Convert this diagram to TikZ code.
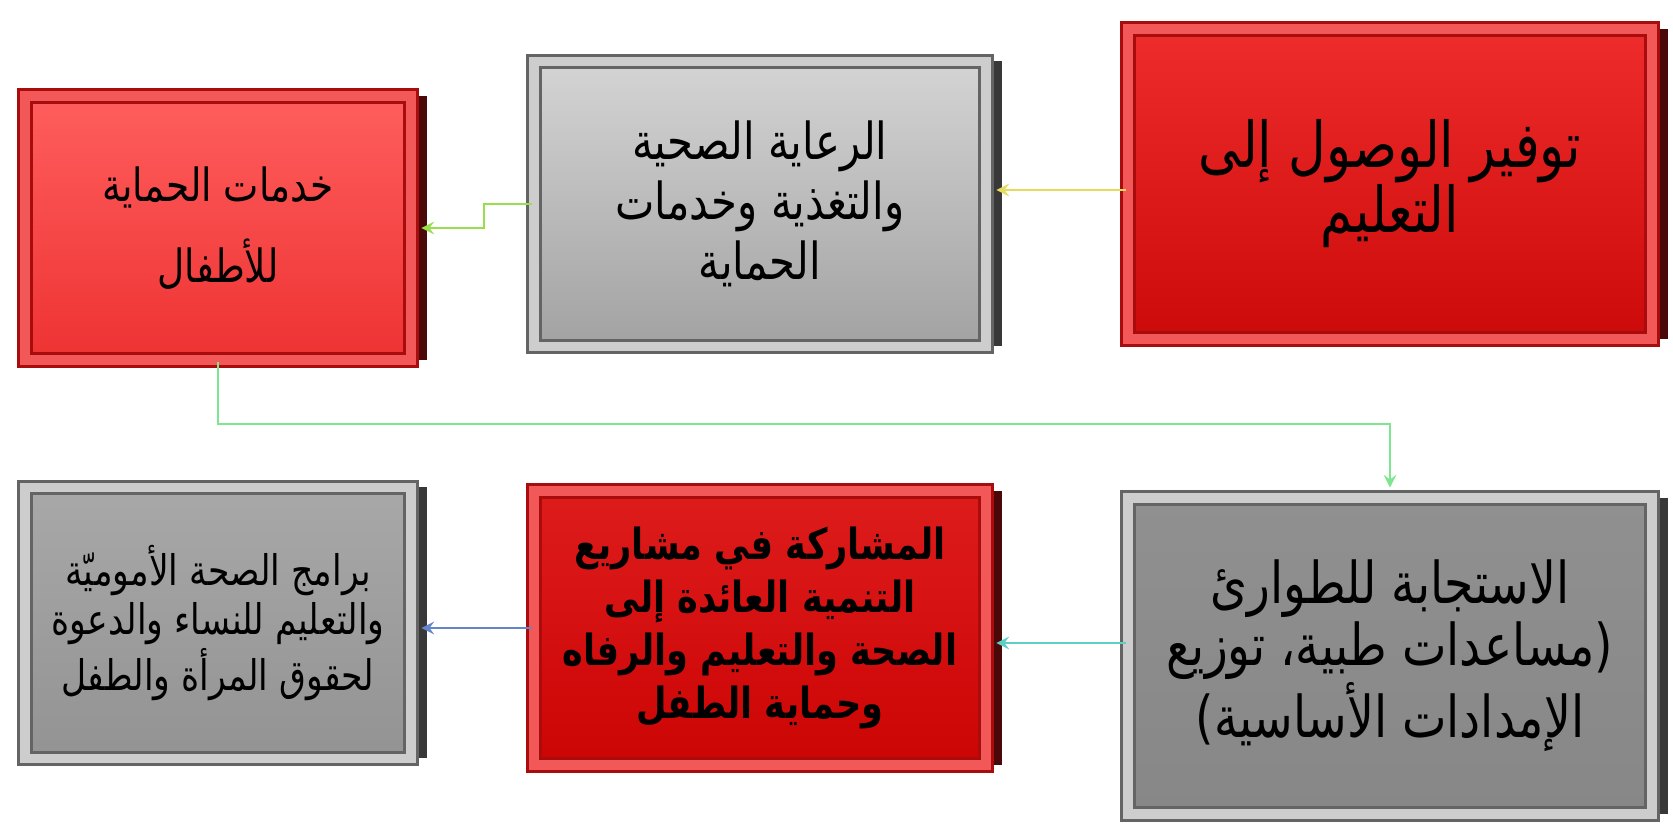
\documentclass[tikz,border=0pt]{standalone}
\usepackage{fontspec}
\usetikzlibrary{shadows}
\newfontfamily\arabicfont[Script=Arabic, FakeStretch=0.82]{DejaVu Sans}
\TeXXeTstate=1

\definecolor{redAtop}{HTML}{FF5E5E}
\definecolor{redAbot}{HTML}{EE3232}
\definecolor{redCtop}{HTML}{EE2C2C}
\definecolor{redCbot}{HTML}{CC0A0A}
\definecolor{redEtop}{HTML}{DE1C1C}
\definecolor{redEbot}{HTML}{CC0404}
\definecolor{greyBtop}{HTML}{D4D4D4}
\definecolor{greyBbot}{HTML}{A2A2A2}
\definecolor{greyDtop}{HTML}{A8A8A8}
\definecolor{greyDbot}{HTML}{939393}
\definecolor{greyFtop}{HTML}{909090}
\definecolor{greyFbot}{HTML}{878787}
\definecolor{framered}{HTML}{A80C0C}
\definecolor{edgered}{HTML}{F25858}
\definecolor{sidered}{HTML}{4A0808}
\definecolor{framegrey}{HTML}{646464}
\definecolor{edgegrey}{HTML}{CDCDCD}
\definecolor{sidegrey}{HTML}{383838}
\definecolor{lineyellow}{HTML}{E4DC5C}
\definecolor{linegreen}{HTML}{98DE4E}
\definecolor{linelight}{HTML}{7EE68E}
\definecolor{lineteal}{HTML}{5ECFC4}
\definecolor{lineblue}{HTML}{6486C8}

\begin{document}
\begin{tikzpicture}[
    >=stealth,
    panel/.style={line width=0.9pt, double distance=2.6pt, align=center, inner sep=2pt},
    redpanel/.style={panel, draw=framered, double=edgered,
      drop shadow={shadow xshift=4.5pt, shadow yshift=0pt, opacity=1, fill=sidered}},
    greypanel/.style={panel, draw=framegrey, double=edgegrey,
      drop shadow={shadow xshift=4.5pt, shadow yshift=0pt, opacity=1, fill=sidegrey}},
    conn/.style={->, line width=0.6pt, shorten >=2.5pt}
  ]
    \useasboundingbox (0, 0) rectangle (16.73, 8.28);

    % top row
    \node[redpanel, top color=redAtop, bottom color=redAbot,
      minimum width=3.86cm, minimum height=2.64cm,
      font=\arabicfont\fontsize{13}{23}\selectfont] (protect) at (2.18, 6.00)
      {\beginR خدمات الحماية\endR\\ \beginR للأطفال\endR};
    \node[greypanel, top color=greyBtop, bottom color=greyBbot,
      minimum width=4.52cm, minimum height=2.85cm,
      font=\arabicfont\fontsize{14.5}{17}\selectfont] (care) at (7.60, 6.24)
      {\beginR الرعاية الصحية\endR\\ \beginR والتغذية وخدمات\endR\\ \beginR الحماية\endR};
    \node[redpanel, top color=redCtop, bottom color=redCbot,
      minimum width=5.24cm, minimum height=3.10cm,
      font=\arabicfont\fontsize{18}{18.5}\selectfont] (access) at (13.90, 6.44)
      {\beginR توفير الوصول إلى\endR\\ \beginR التعليم\endR};

    % bottom row
    \node[greypanel, top color=greyDtop, bottom color=greyDbot,
      minimum width=3.86cm, minimum height=2.71cm,
      font=\arabicfont\fontsize{12}{13.8}\selectfont] (mother) at (2.18, 2.05)
      {\beginR برامج الصحة الأموميّة\endR\\ \beginR والتعليم للنساء والدعوة\endR\\ \beginR لحقوق المرأة والطفل\endR};
    \node[redpanel, top color=redEtop, bottom color=redEbot,
      minimum width=4.52cm, minimum height=2.74cm,
      font=\arabicfont\bfseries\fontsize{12.2}{15}\selectfont] (dev) at (7.60, 2.00)
      {\beginR المشاركة في مشاريع\endR\\ \beginR التنمية العائدة إلى\endR\\ \beginR الصحة والتعليم والرفاه\endR\\ \beginR وحماية الطفل\endR};
    \node[greypanel, top color=greyFtop, bottom color=greyFbot,
      minimum width=5.24cm, minimum height=3.16cm,
      font=\arabicfont\fontsize{16.4}{17.5}\selectfont] (emerg) at (13.90, 1.72)
      {\beginR الاستجابة للطوارئ\endR\\ \beginR مساعدات طبية، توزيع\endR(\\ )\beginR الإمدادات الأساسية\endR};

    % connectors
    \draw[conn, draw=lineyellow] ([yshift=-0.06cm]access.west) -- ([yshift=-0.06cm]access.west -| care.east);
    \draw[conn, draw=linegreen] (care.west) -- ++(-0.48, 0) |- (protect.east);
    \draw[conn, draw=linelight] (protect.south) -- ++(0, -0.62) -| (emerg.north);
    \draw[conn, draw=lineteal] ([yshift=0.13cm]emerg.west) -- ([yshift=0.13cm]emerg.west -| dev.east);
    \draw[conn, draw=lineblue] (dev.west) -- (dev.west -| mother.east);
  \end{tikzpicture}
\end{document}
